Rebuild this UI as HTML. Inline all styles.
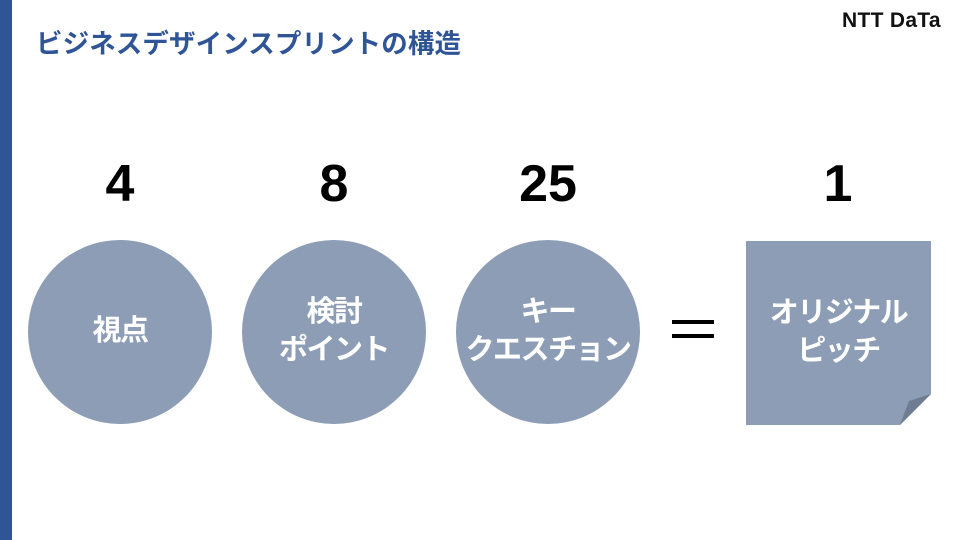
<!DOCTYPE html>
<html><head><meta charset="utf-8"><style>
body{margin:0;width:960px;height:540px;background:#fff;position:relative;overflow:hidden;font-family:"Liberation Sans","Noto Sans CJK JP",sans-serif}
.bar{position:absolute;left:0;top:0;width:12px;height:540px;background:#2F5597}
.title{position:absolute;left:36px;top:22px;font-size:26.5px;font-weight:bold;color:#2F5597;white-space:nowrap;letter-spacing:0.1px}
.logo{position:absolute;left:842px;top:9px;font-size:21px;font-weight:bold;color:#111;letter-spacing:0.3px}
.num{position:absolute;top:154px;width:200px;text-align:center;font-size:52px;font-weight:bold;color:#000}
.c{position:absolute;top:240px;width:184px;height:184px;border-radius:50%;background:#8C9DB5;color:#fff;font-size:29px;font-weight:bold;display:flex;align-items:center;justify-content:center;text-align:center;line-height:1.3;letter-spacing:-1.5px}
.sq{position:absolute;left:746px;top:241px;width:185px;height:184px}
.sqt{position:absolute;left:746px;top:241px;width:185px;height:184px;color:#fff;font-size:29px;font-weight:bold;display:flex;align-items:center;justify-content:center;text-align:center;line-height:1.3;letter-spacing:-1.5px}
.eq{position:absolute;left:672px;top:320px;width:42px;height:4px;background:#000;box-shadow:0 14px 0 #000}
</style></head><body>
<div class="bar"></div>
<div class="title">ビジネスデザインスプリントの構造</div>
<div class="logo">NTT DaTa</div>
<div class="num" style="left:20px">4</div>
<div class="num" style="left:234px">8</div>
<div class="num" style="left:448px">25</div>
<div class="num" style="left:738px">1</div>
<div class="c" style="left:28px">視点</div>
<div class="c" style="left:242px">検討<br>ポイント</div>
<div class="c" style="left:456px">キー<br>クエスチョン</div>
<div class="eq"></div>
<svg class="sq" width="185" height="184" viewBox="0 0 185 184">
<polygon points="0,0 185,0 185,153 154,184 0,184" fill="#8C9DB5"/>
<polygon points="185,153 163,160 154,184" fill="#6E7D93"/>
</svg>
<div class="sqt">オリジナル<br>ピッチ</div>
</body></html>
